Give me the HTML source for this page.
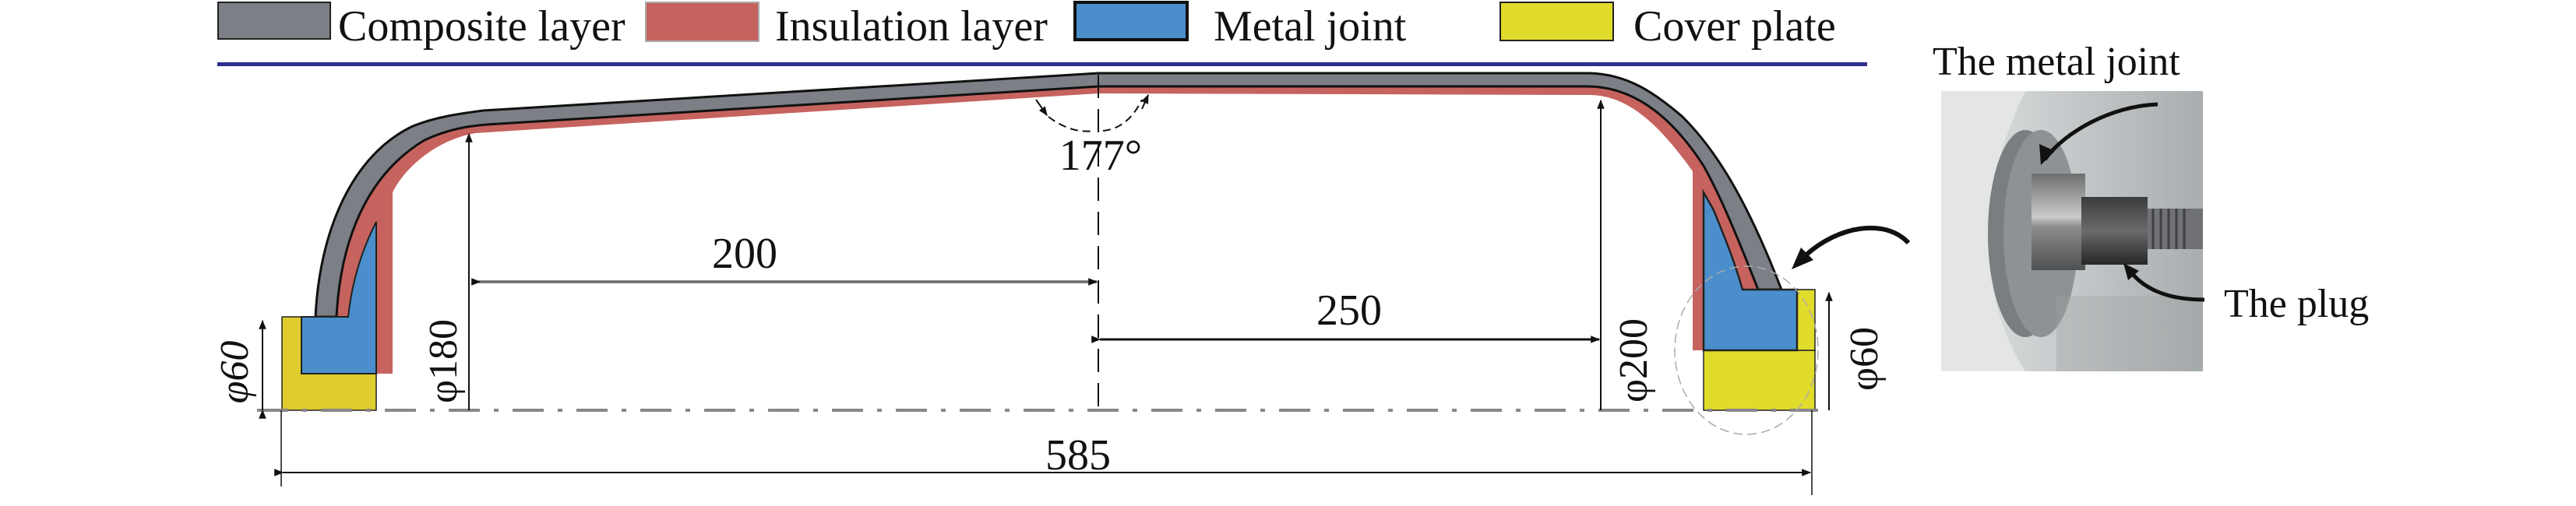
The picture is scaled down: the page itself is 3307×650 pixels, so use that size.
<!DOCTYPE html>
<html><head><meta charset="utf-8"><style>
html,body{margin:0;padding:0;background:#fff;}
svg{display:block;}
text{font-family:"Liberation Serif",serif;fill:#111;}
</style></head><body>
<svg width="3307" height="650" viewBox="0 0 3307 650" xmlns="http://www.w3.org/2000/svg">
<defs>
<marker id="ar" viewBox="0 0 10 10" refX="9" refY="5" markerWidth="12" markerHeight="12" markerUnits="userSpaceOnUse" orient="auto"><path d="M0,1 L10,5 L0,9 z" fill="#111"/></marker>
<linearGradient id="bg" x1="0" y1="0" x2="1" y2="0"><stop offset="0" stop-color="#e4e6e6"/><stop offset="0.3" stop-color="#d0d3d4"/><stop offset="1" stop-color="#a9adaf"/></linearGradient>
<linearGradient id="met" x1="0" y1="0" x2="0" y2="1"><stop offset="0" stop-color="#6c6e70"/><stop offset="0.45" stop-color="#c9cbcc"/><stop offset="0.55" stop-color="#8a8c8e"/><stop offset="1" stop-color="#4e5052"/></linearGradient>
<linearGradient id="nut" x1="0" y1="0" x2="0" y2="1"><stop offset="0" stop-color="#3a3b3c"/><stop offset="0.5" stop-color="#6a6b6c"/><stop offset="1" stop-color="#262728"/></linearGradient>
</defs>

<!-- Legend -->
<rect x="280" y="3" width="144" height="47" fill="#7c7f85" stroke="#222" stroke-width="2"/>
<text x="434" y="52" font-size="56">Composite layer</text>
<rect x="829" y="3" width="145" height="50" fill="#c6635e" stroke="#aaa" stroke-width="2"/>
<text x="995" y="52" font-size="56">Insulation layer</text>
<rect x="1380" y="3" width="144" height="48" fill="#4a8fcb" stroke="#111" stroke-width="4"/>
<text x="1558" y="52" font-size="56">Metal joint</text>
<rect x="1926" y="3" width="145" height="49" fill="#e1dc2b" stroke="#222" stroke-width="2"/>
<text x="2097" y="52" font-size="56">Cover plate</text>
<rect x="279" y="80" width="2118" height="5" fill="#2e2f8a"/>

<!-- Cover plates -->
<rect x="362" y="407" width="121" height="120" fill="#dfcc2e" stroke="#222" stroke-width="1.5"/>
<rect x="2187" y="450" width="143" height="77" fill="#e1dc2b" stroke="#222" stroke-width="1.5"/>
<rect x="2307" y="372" width="23" height="78" fill="#e1dc2b" stroke="#222" stroke-width="1.5"/>

<!-- Red insulation (filled region) -->
<path d="M432,407 C437,310 470,225 545,180 C575,166 600,162 625,160 L1410,111 L2040,111 C2090,112 2140,140 2187,213 C2205,245 2225,290 2257,372
 L2237,372 C2225,330 2212,300 2200,270 L2187,247 L2187,450 L2173,450 L2173,220 C2130,160 2090,122 2040,122 L1410,120 L610,171 C560,180 520,215 504,247 L504,480 L483,480 L483,285 C465,320 452,360 447,407 Z" fill="#c6635e"/>

<!-- Gray composite -->
<path d="M405,407 C410,300 450,200 530,162 C560,150 590,146 620,142 L1410,94 L2040,94 C2090,95 2125,120 2160,150 C2200,190 2240,250 2287,372 L2257,372 C2225,290 2205,245 2187,213 C2140,140 2090,112 2040,111 L1410,111 L625,160 C600,162 575,166 545,180 C470,225 437,310 432,407 Z" fill="#7c7f85" stroke="#111" stroke-width="3"/>

<!-- Blue joints -->
<path d="M387,407 L447,407 C452,360 465,320 483,285 L483,480 L387,480 Z" fill="#4a8fcb" stroke="#222" stroke-width="2"/>
<path d="M2307,372 L2237,372 C2225,330 2212,300 2200,270 L2187,247 L2187,450 L2307,450 Z" fill="#4a8fcb" stroke="#222" stroke-width="2.5"/>

<!-- Centerline -->
<line x1="330" y1="527" x2="2334" y2="527" stroke="#888" stroke-width="4" stroke-dasharray="40,18,6,18"/>
<line x1="1410" y1="96" x2="1410" y2="527" stroke="#111" stroke-width="2" stroke-dasharray="30,14"/>

<!-- Dimensions -->
<line x1="337" y1="527" x2="337" y2="412" stroke="#111" stroke-width="2" marker-end="url(#ar)" marker-start="url(#ar)"/>
<text transform="translate(318,478) rotate(-90)" font-size="52" text-anchor="middle" font-style="italic">φ60</text>
<line x1="602" y1="527" x2="602" y2="172" stroke="#111" stroke-width="2" marker-end="url(#ar)"/>
<text transform="translate(586,464) rotate(-90)" font-size="52" text-anchor="middle">φ180</text>
<line x1="614" y1="362" x2="1408" y2="362" stroke="#888" stroke-width="4"/>
<line x1="616" y1="362" x2="1408" y2="362" stroke="#555" stroke-width="1" marker-end="url(#ar)" marker-start="url(#ar)"/>
<text x="956" y="344" font-size="56" text-anchor="middle">200</text>
<line x1="1412" y1="436" x2="2053" y2="436" stroke="#111" stroke-width="3" marker-end="url(#ar)" marker-start="url(#ar)"/>
<text x="1732" y="417" font-size="56" text-anchor="middle">250</text>
<line x1="2055" y1="527" x2="2055" y2="129" stroke="#111" stroke-width="2" marker-end="url(#ar)"/>
<text transform="translate(2114,463) rotate(-90)" font-size="52" text-anchor="middle">φ200</text>
<line x1="2348" y1="527" x2="2348" y2="376" stroke="#111" stroke-width="2" marker-end="url(#ar)"/>
<text transform="translate(2410,461) rotate(-90)" font-size="52" text-anchor="middle">φ60</text>
<line x1="361" y1="527" x2="361" y2="625" stroke="#111" stroke-width="1.5"/>
<line x1="2326" y1="527" x2="2326" y2="636" stroke="#111" stroke-width="1.5"/>
<line x1="363" y1="607" x2="2324" y2="607" stroke="#111" stroke-width="2" marker-end="url(#ar)" marker-start="url(#ar)"/>
<text x="1384" y="603" font-size="56" text-anchor="middle">585</text>

<!-- 177 angle -->
<path d="M1346,150 Q1375,172 1404,168" fill="none" stroke="#111" stroke-width="2" stroke-dasharray="10,6"/>
<path d="M1416,168 Q1448,165 1466,128" fill="none" stroke="#111" stroke-width="2" stroke-dasharray="10,6"/>
<path d="M1330,128 L1344,148" stroke="#111" stroke-width="2" marker-end="url(#ar)"/>
<path d="M1466,140 L1474,122" stroke="#111" stroke-width="2" marker-end="url(#ar)"/>
<text x="1413" y="218" font-size="56" text-anchor="middle">177°</text>

<!-- dashed ellipse and arrow -->
<ellipse cx="2242" cy="450" rx="92" ry="108" fill="none" stroke="#aaa" stroke-width="1.5" stroke-dasharray="12,6"/>
<path d="M2450,312 C2420,280 2360,290 2318,328" fill="none" stroke="#111" stroke-width="6"/>
<path d="M2300,346 L2312,318 L2328,334 Z" fill="#111"/>

<!-- Photo -->
<text x="2481" y="96" font-size="52">The metal joint</text>
<g>
<rect x="2492" y="117" width="336" height="360" fill="url(#bg)"/>
<path d="M2492,117 L2600,117 C2570,180 2550,250 2552,300 C2552,370 2570,430 2600,477 L2492,477 Z" fill="#e4e6e5"/>
<ellipse cx="2600" cy="300" rx="48" ry="133" fill="#7b7e80"/>
<ellipse cx="2620" cy="300" rx="48" ry="133" fill="#8f9294"/>
<rect x="2608" y="223" width="69" height="124" fill="url(#met)"/>
<rect x="2672" y="253" width="85" height="87" fill="url(#nut)"/>
<rect x="2757" y="268" width="71" height="52" fill="#6f7174"/>
<g stroke="#3e4042" stroke-width="3">
<line x1="2764" y1="268" x2="2764" y2="320"/><line x1="2774" y1="268" x2="2774" y2="320"/><line x1="2784" y1="268" x2="2784" y2="320"/><line x1="2794" y1="268" x2="2794" y2="320"/><line x1="2804" y1="268" x2="2804" y2="320"/>
</g>
<rect x="2640" y="380" width="188" height="97" fill="#9ea2a4" opacity="0.35"/>
<path d="M2770,134 C2710,136 2650,170 2625,205" fill="none" stroke="#111" stroke-width="5"/>
<path d="M2620,212 L2618,185 L2638,194 Z" fill="#111"/>
<path d="M2830,385 C2780,385 2750,370 2732,345" fill="none" stroke="#111" stroke-width="5"/>
<path d="M2726,338 L2746,348 L2732,360 Z" fill="#111"/>
</g>
<text x="2855" y="407" font-size="52">The plug</text>
</svg>
</body></html>
